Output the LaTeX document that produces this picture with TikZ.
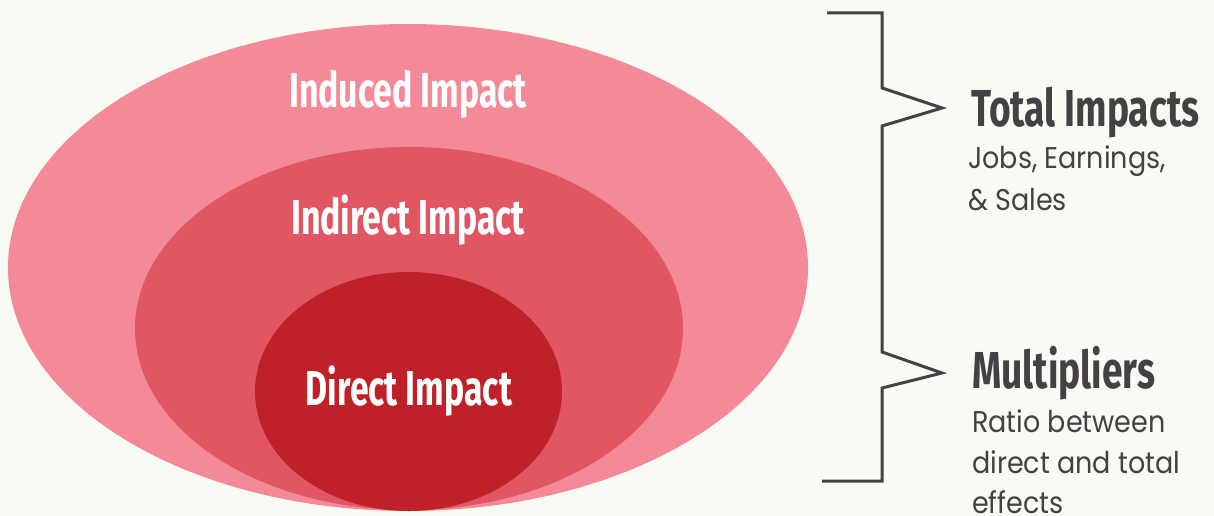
\documentclass[tikz,border=0pt]{standalone}
\usepackage{fontspec}
\newfontfamily\condfont[FakeStretch=0.69]{Fira Sans}
\newfontfamily\headfont[FakeStretch=0.715]{Fira Sans}
\newfontfamily\bodyfont[FakeStretch=0.9]{Poppins}
\definecolor{bg}{HTML}{F8FBF3}
\definecolor{outerc}{HTML}{F48A98}
\definecolor{midc}{HTML}{E05763}
\definecolor{innerc}{HTML}{BE2228}
\definecolor{ink}{HTML}{444043}
\tikzset{
  ringlabel/.style={anchor=base, inner sep=0pt, text=white, font=\condfont\bfseries\fontsize{49}{58}\selectfont},
  headlabel/.style={anchor=base west, inner sep=0pt, text=ink, font=\headfont\bfseries\fontsize{52}{60}\selectfont},
  bodylabel/.style={anchor=base west, inner sep=0pt, text=ink, font=\bodyfont\fontsize{30}{41}\selectfont},
  bracketline/.style={draw=ink, line width=3pt, line join=miter}
}
\begin{document}
\begin{tikzpicture}[x=1pt,y=-1pt]
\fill[bg] (0,0) rectangle (1214,516);
\useasboundingbox (0,0) rectangle (1214,516);
\fill[outerc] (408,267.5) ellipse [x radius=400, y radius=243.5];
\fill[midc] (409,328.5) ellipse [x radius=274, y radius=181.5];
\fill[innerc] (408.5,391.5) ellipse [x radius=153.5, y radius=119.5];
\node[ringlabel] (induced) at (408,107) {Induced Impact};
\node[ringlabel] (indirect) at (408,234) {Indirect Impact};
\node[ringlabel] (direct) at (409,405) {Direct Impact};
\draw[bracketline] (827,13) -- (882,13) -- (882,88) -- (942,108) -- (882,126) -- (882,352) -- (942,373) -- (882,388) -- (882,481) -- (822,481);
\node[headlabel] (total) at (971,126) {Total Impacts};
\node[bodylabel] (totalsubA) at (968,168) {Jobs, Earnings,};
\node[bodylabel] (totalsubB) at (968,210) {\& Sales};
\node[headlabel] (mult) at (972,388) {Multipliers};
\node[bodylabel] (multsubA) at (972,432) {Ratio between};
\node[bodylabel] (multsubB) at (972,473) {direct and total};
\node[bodylabel] (multsubC) at (972,513) {effects};
\end{tikzpicture}
\end{document}
